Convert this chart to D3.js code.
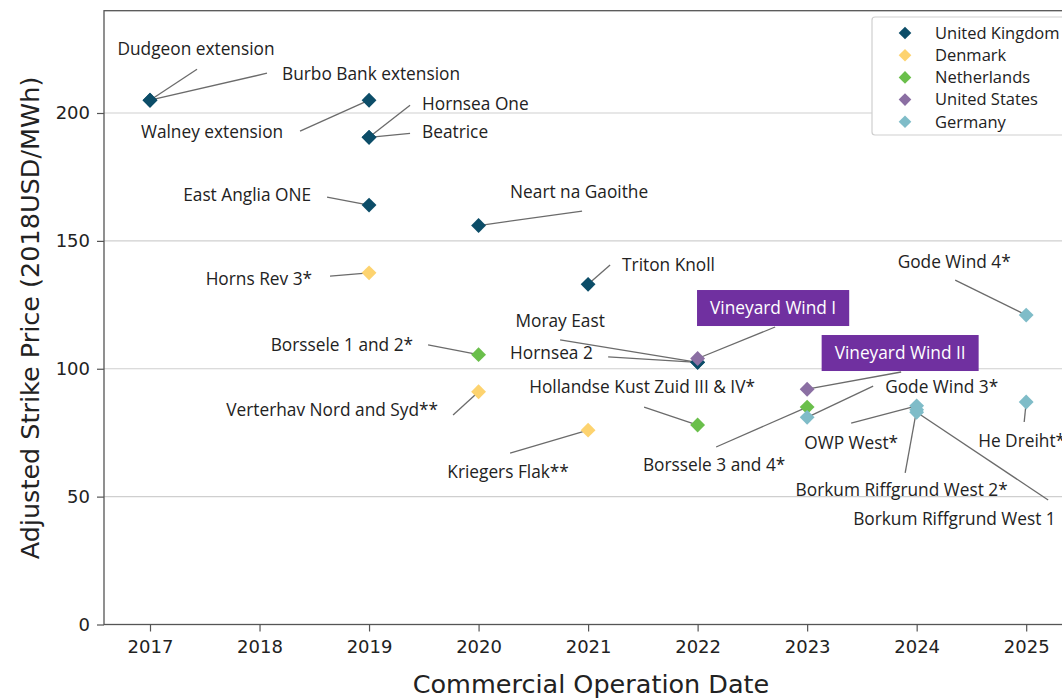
<!DOCTYPE html>
<html><head><meta charset="utf-8">
<script src="https://cdn.jsdelivr.net/npm/d3@7"></script>
<style>body{margin:0;background:#fff}</style>
</head><body><svg id="c" width="1062" height="698"></svg>
<script>
// ---------- data ----------
const countries = ["United Kingdom","Denmark","Netherlands","United States","Germany"];
const countryColors = ["#0c4d68","#fdd36f","#6abf4b","#8b6fa3","#7fbcc8"];

const projectNames = [
  "Dudgeon extension","Burbo Bank extension","Walney extension","Hornsea One","Beatrice",
  "East Anglia ONE","Neart na Gaoithe","Triton Knoll","Moray East","Hornsea 2",
  "Horns Rev 3*","Verterhav Nord and Syd**","Kriegers Flak**",
  "Borssele 1 and 2*","Hollandse Kust Zuid III & IV*","Borssele 3 and 4*",
  "Vineyard Wind I","Vineyard Wind II",
  "Gode Wind 4*","He Dreiht*","Gode Wind 3*","OWP West*","Borkum Riffgrund West 2*","Borkum Riffgrund West 1"
];
const projectYears = [2017,2017,2019,2019,2019,2019,2020,2021,2022,2022,
  2019,2020,2021, 2020,2022,2023, 2022,2023, 2025,2025,2023,2024,2024,2024];
const projectPrices = [205,205,205,190.5,190.5,164,156,133,102.5,102.5,
  137.5,91,76, 105.5,78,85, 104,92, 121,87,81,85.5,84,83];
const projectCountry = [0,0,0,0,0,0,0,0,0,0, 1,1,1, 2,2,2, 3,3, 4,4,4,4,4,4];

const xTickValues = [2017,2018,2019,2020,2021,2022,2023,2024,2025];
const yTickValues = [0,50,100,150,200];

// label layout: [text dx, text dy, anchor, line-start dx, line-start dy, boxed] (pixel offsets from the point)
const labelLayout = [
  [46,-51,"middle",47,-31,0],
  [132,-26,"start",117,-27,0],
  [-157,32,"middle",-69,31,0],
  [53,-33,"start",41,-32,0],
  [53,-5,"start",41,-4,0],
  [-58,-10,"end",-42,-8,0],
  [31.5,-33.5,"start",103.5,-14.5,0],
  [34,-19.4,"start",22,-19.4,0],
  [-137.5,-41.4,"middle",-137.5,-22.4,0],
  [-187.5,-9.4,"start",-89.5,-5.4,0],
  [-57,6.2,"end",-39,3.2,0],
  [-40.5,18.2,"end",-25.5,23.2,0],
  [-80,41.9,"middle",-78,23,0],
  [-65.5,-9.7,"end",-50.5,-9.7,0],
  [-55.5,-38,"middle",-53.5,-18,0],
  [-93,57.9,"middle",-91,39.9,0],
  [75.5,-50.5,"middle",77.5,-31.5,1],
  [93,-36.2,"middle",94,-17.2,1],
  [-72,-53,"middle",-71,-35,0],
  [-48,39,"start",-2,20,0],
  [78,-30.3,"start",66,-31.3,0],
  [-65.5,37.2,"middle",-65.5,17.2,0],
  [-15,80.3,"middle",-11.5,63.3,0],
  [-63.5,106.8,"start",131.5,87.8,0]
];

// ---------- chart ----------
const svg = d3.select("#c");
const L = 104, R = 1070, T = 10.7, B = 624.5;
const x = d3.scaleLinear().domain([2016.58, 2025.4]).range([L, R]);
const y = d3.scaleLinear().domain([0, 240]).range([B, T]);
const labelFont = "17.3px";

// grid
svg.append("g").selectAll("line").data(yTickValues.filter(v => v > 0)).join("line")
  .attr("x1", L).attr("x2", R).attr("y1", d => y(d)).attr("y2", d => y(d))
  .attr("stroke", "#cfcfcf").attr("stroke-width", 1.2);

// frame
svg.append("rect").attr("x", L).attr("y", T).attr("width", R - L).attr("height", B - T)
  .attr("fill", "none").attr("stroke", "#555").attr("stroke-width", 1.3);

// axes
const xAxis = svg.append("g").attr("transform", `translate(0,${B})`)
  .call(d3.axisBottom(x).tickValues(xTickValues).tickFormat(d3.format("d")).tickSize(7).tickPadding(9));
const yAxis = svg.append("g").attr("transform", `translate(${L},0)`)
  .call(d3.axisLeft(y).tickValues(yTickValues).tickSize(7).tickPadding(7));
[xAxis, yAxis].forEach(a => {
  a.select(".domain").remove();
  a.selectAll(".tick line").attr("stroke", "#555").attr("stroke-width", 1.2);
  a.selectAll(".tick text").attr("fill", "#222").style("font-family", "DejaVu Sans").style("font-size", "18px");
});

// axis titles
svg.append("text").attr("x", 591).attr("y", 693).attr("text-anchor", "middle")
  .style("font-family", "DejaVu Sans").style("font-size", "25.5px").attr("fill", "#222")
  .text("Commercial Operation Date");
svg.append("text").attr("transform", "translate(39,318) rotate(-90)").attr("text-anchor", "middle")
  .style("font-family", "DejaVu Sans").style("font-size", "25.5px").attr("fill", "#222")
  .text("Adjusted Strike Price (2018USD/MWh)");

const data = projectNames.map((n, i) => ({
  name: n, year: projectYears[i], price: projectPrices[i], c: projectCountry[i], lay: labelLayout[i]
}));

// leader lines
svg.append("g").selectAll("line").data(data).join("line")
  .attr("x1", d => x(d.year) + d.lay[3]).attr("y1", d => y(d.price) + d.lay[4])
  .attr("x2", d => x(d.year)).attr("y2", d => y(d.price))
  .attr("stroke", "#6b6b6b").attr("stroke-width", 1.3);

// markers
const diamond = d3.symbol().type(d3.symbolSquare).size(110);
const order = data.slice().sort((a, b) => a.c - b.c);
svg.append("g").selectAll("path").data(order).join("path")
  .attr("d", diamond)
  .attr("transform", d => `translate(${x(d.year)},${y(d.price)}) rotate(45)`)
  .attr("fill", d => countryColors[d.c]);

// labels
const lab = svg.append("g");
data.forEach(d => {
  const px = x(d.year) + d.lay[0], py = y(d.price) + d.lay[1];
  if (d.lay[5]) {
    const t = lab.append("text").attr("x", px).attr("y", py).attr("dy", "0.35em")
      .attr("text-anchor", "middle").style("font-family", "Open Sans").style("font-size", labelFont)
      .attr("fill", "#fff").text(d.name);
    const bb = t.node().getBBox();
    lab.insert("rect", () => t.node()).attr("x", bb.x - 13).attr("y", py - 18)
      .attr("width", bb.width + 26).attr("height", 36).attr("fill", "#7030a0");
  } else {
    lab.append("text").attr("x", px).attr("y", py).attr("dy", "0.35em")
      .attr("text-anchor", d.lay[2]).style("font-family", "Open Sans").style("font-size", labelFont)
      .attr("fill", "#222").text(d.name);
  }
});

// legend
const lg = svg.append("g");
lg.append("rect").attr("x", 872).attr("y", 17).attr("width", 210).attr("height", 118).attr("rx", 3)
  .attr("fill", "#fff").attr("stroke", "#cfcfcf").attr("stroke-width", 1.2);
countries.forEach((c, i) => {
  const ly = 33 + i * 22.2;
  lg.append("path").attr("d", d3.symbol().type(d3.symbolSquare).size(80))
    .attr("transform", `translate(905,${ly}) rotate(45)`).attr("fill", countryColors[i]);
  lg.append("text").attr("x", 935).attr("y", ly).attr("dy", "0.35em")
    .style("font-family", "Open Sans").style("font-size", "16.5px").attr("fill", "#222").text(c);
});
</script></body></html>
